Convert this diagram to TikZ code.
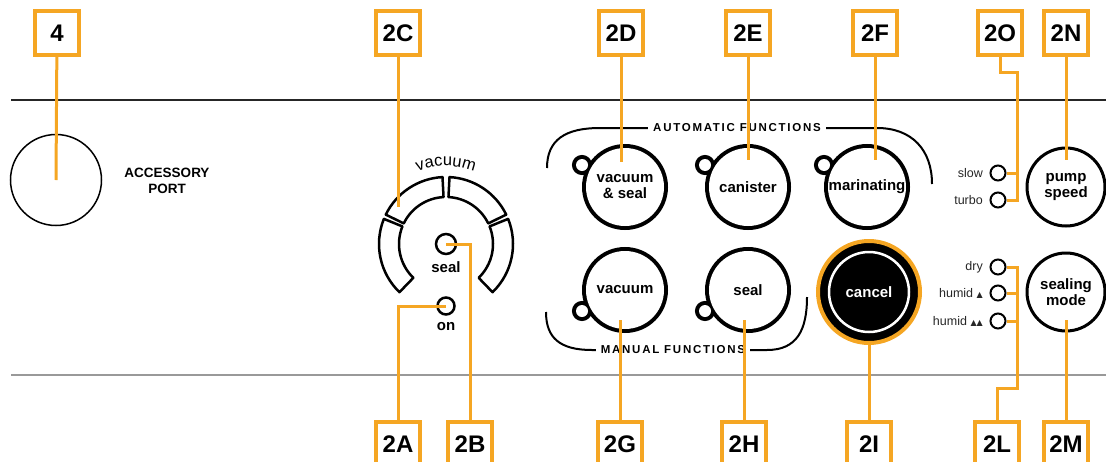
\documentclass[tikz,border=0pt]{standalone}
\usepackage{fontspec}
\setsansfont{Liberation Sans}
\newfontfamily\dropfont{DejaVu Sans}
\usetikzlibrary{decorations.text}

\definecolor{leadorange}{RGB}{245,166,35}
\newcommand\fs[2]{\fontsize{#1}{#2}\selectfont}
\newcommand\grpfont{\sffamily\bfseries\fs{11.5}{11.5}\addfontfeature{LetterSpace=15}}
\newcommand\vacfont{\sffamily\fs{16.5}{16.5}\addfontfeature{LetterSpace=4}}
\newcommand\drop{{\dropfont\fs{8}{8}▲}}

\begin{document}
\begin{tikzpicture}[x=1pt,y=-1pt,
    tag/.style={draw=leadorange,line width=3.5pt,fill=white,minimum width=44pt,minimum height=44pt,inner sep=0pt,font=\sffamily\bfseries\fs{24}{24}},
    lead/.style={leadorange,line width=3pt},
    led/.style={circle,draw,line width=2pt,minimum size=15pt,inner sep=0pt},
    knob/.style={circle,draw,line width=3pt,minimum size=78pt,inner sep=0pt,align=center,font=\sffamily\bfseries\fs{15}{16}},
    btntext/.style={circle,minimum size=84pt,inner sep=0pt,align=center,font=\sffamily\bfseries\fs{15}{16}},
    small/.style={font=\sffamily\fs{12.5}{12.5},text=black!85,anchor=east,inner sep=1pt},
    grp/.style={fill=white,inner xsep=5pt,inner ysep=2pt,font=\grpfont},
    seg/.style={line width=2.5pt,line join=round}]
    \useasboundingbox (0,0) rectangle (1106,461);

    \draw[line width=2pt,black!85] (11,100) -- (1106,100);
    \draw[line width=2pt,black!40] (11,375) -- (1106,375);

    \node[circle,draw,line width=1.5pt,minimum size=91pt] (port) at (56,180) {};
    \node[font=\sffamily\bfseries\fs{13.5}{16},align=center] (porttxt) at (167,181) {ACCESSORY\\PORT};

    \begin{scope}[shift={(446,244)},y=1pt]
        \draw[seg] (93:47) arc[start angle=93,end angle=154,radius=47] -- (154:67) arc[start angle=154,end angle=93,radius=67] -- cycle;
        \draw[seg] (158:47) arc[start angle=158,end angle=226,radius=47] -- (226:67) arc[start angle=226,end angle=158,radius=67] -- cycle;
        \draw[seg] (87:47) arc[start angle=87,end angle=26,radius=47] -- (26:67) arc[start angle=26,end angle=87,radius=67] -- cycle;
        \draw[seg] (22:47) arc[start angle=22,end angle=-46,radius=47] -- (-46:67) arc[start angle=-46,end angle=22,radius=67] -- cycle;
        \path[decorate,decoration={text along path,text align=center,text={|\vacfont|vacuum}}] (132:78) arc[start angle=132,end angle=48,radius=78];
    \end{scope}
    \coordinate (gaugepin) at (398,207);
    \node[led,line width=2.5pt,minimum size=20pt] (sealled) at (446,244) {};
    \node[font=\sffamily\bfseries\fs{15}{15}] (sealtxt) at (446,267) {seal};
    \node[led,line width=2.5pt,minimum size=17pt] (onled) at (446,306) {};
    \node[font=\sffamily\bfseries\fs{15}{15}] (ontxt) at (446,327) {on};

    \draw[line width=2pt] (547,168) .. controls (547,140) and (565,128) .. (600,128) -- (877,128) .. controls (912,128) and (932,150) .. (932,184);
    \draw[line width=2pt] (546,312) .. controls (546,338) and (560,350) .. (592,350) -- (767,350) .. controls (797,350) and (807,330) .. (807,297);
    \node[grp] (auto) at (737,128) {AUTOMATIC FUNCTIONS};
    \node[grp] (manual) at (673,350) {MANUAL FUNCTIONS};

    \foreach \bx/\by/\sx/\sy in {625/187/582/165, 748/187/705/165, 867/187/824/165, 625/290/582/311, 748/290/705/311}{
        \draw[line width=8pt] (\bx,\by) circle (39) (\sx,\sy) circle (6);
        \fill[white] (\bx,\by) circle (39) (\sx,\sy) circle (6);
    }
    \node[btntext] (vs) at (625,187) {vacuum\\\& seal};
    \node[btntext] (can) at (748,187) {canister};
    \node[btntext] (mar) at (867,187) {marinating};
    \node[btntext] (vac) at (625,290) {vacuum};
    \node[btntext] (sl) at (748,290) {seal};
    \coordinate (vspin) at (621,162);
    \coordinate (canpin) at (748,160);
    \coordinate (marpin) at (875,160);
    \coordinate (vacpin) at (620,320);
    \coordinate (slpin) at (744,320);

    \node[circle,fill=black,draw=leadorange,line width=4pt,minimum size=102pt,inner sep=0pt,text=white,font=\sffamily\bfseries\fs{15}{15}] (cancel) at (869,292) {cancel};
    \draw[white,line width=2.5pt] (cancel.center) circle (40);

    \node[led] (slow) at (998,173) {};
    \node[led] (turbo) at (998,200) {};
    \node[led] (dry) at (998,267) {};
    \node[led] (hum1) at (998,293) {};
    \node[led] (hum2) at (998,321) {};
    \node[small] (slowtxt) at (984,173) {slow};
    \node[small] (turbotxt) at (984,200) {turbo};
    \node[small] (drytxt) at (984,267) {dry};
    \node[small] (hum1txt) at (984,293) {humid \drop};
    \node[small] (hum2txt) at (984,321) {humid \drop\drop};

    \node[knob] (pump) at (1066,187) {pump\\speed};
    \node[knob] (mode) at (1066,292) {sealing\\mode};
    \coordinate (pumppin) at (1066,160);
    \coordinate (modepin) at (1066,320);

    \foreach \nm/\x in {4/57, 2C/398, 2D/621, 2E/748, 2F/875, 2O/1000, 2N/1066}
        \node[tag] (t\nm) at (\x,33) {\nm};
    \foreach \nm/\x in {2A/398, 2B/470, 2G/620, 2H/744, 2I/869, 2L/997, 2M/1066}
        \node[tag] (t\nm) at (\x,444) {\nm};

    \draw[lead] (t4) -- (port.center);
    \draw[lead] (t2C) -- (gaugepin);
    \draw[lead] (sealled.center) -| (t2B);
    \draw[lead] (onled.center) -| (t2A);
    \draw[lead] (t2D) -- (vspin);
    \draw[lead] (t2E) -- (canpin);
    \draw[lead] (t2F) -- (marpin);
    \draw[lead] (t2G) -- (vacpin);
    \draw[lead] (t2H) -- (slpin);
    \draw[lead] (t2I) -- (cancel);
    \draw[lead] (t2O) -- ++(0,39) -| ([xshift=11pt]turbo.east) -- (turbo.east);
    \draw[lead] (slow.east) -- ++(11,0);
    \draw[lead] (t2L) -- ++(0,-56) -| ([xshift=11pt]dry.east) -- (dry.east);
    \draw[lead] (hum1.east) -- ++(11,0);
    \draw[lead] (hum2.east) -- ++(11,0);
    \draw[lead] (t2N) -- (pumppin);
    \draw[lead] (t2M) -- (modepin);
\end{tikzpicture}
\end{document}
